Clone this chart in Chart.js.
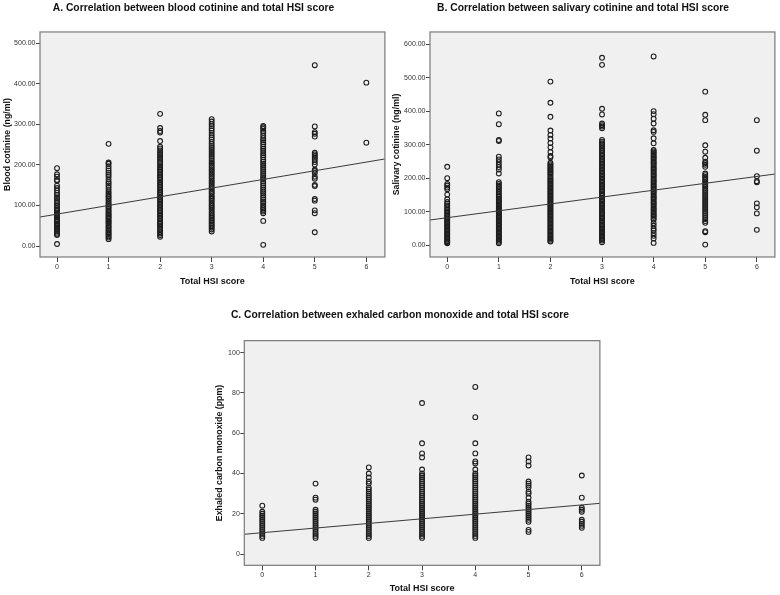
<!DOCTYPE html>
<html>
<head>
<meta charset="utf-8">
<script src="https://cdn.jsdelivr.net/npm/chart.js@4"></script>
<style>
	body { margin: 0; background: #fff; }
	.box { position: absolute; }
</style>
</head>
<body>
<div class="box" style="left:0;top:0;width:390px;height:290px"><canvas id="chartA"></canvas></div>
<div class="box" style="left:390px;top:0;width:390px;height:290px"><canvas id="chartB"></canvas></div>
<div class="box" style="left:200px;top:290px;width:405px;height:305px"><canvas id="chartC"></canvas></div>
<script>
// Total HSI score categories (x axis)
const hsiScores = [0, 1, 2, 3, 4, 5, 6];

// Blood cotinine (ng/ml), one list per HSI score
const bloodCotinine = [
	[192, 177, 171, 163, 161, 149, 143, 137, 131, 126, 120, 117, 111, 106, 101, 98, 93, 89, 86, 82, 79, 76, 73, 70, 66, 63, 60, 56, 53, 50, 46, 43, 40, 37, 33, 30, 27, 5],
	[252, 206, 203, 197, 191, 186, 181, 176, 171, 164, 158, 154, 149, 144, 138, 133, 129, 124, 121, 116, 112, 107, 103, 99, 96, 92, 88, 85, 81, 78, 74, 71, 68, 64, 61, 58, 55, 51, 48, 45, 41, 38, 34, 31, 28, 24, 21, 17],
	[326, 291, 284, 280, 259, 245, 241, 236, 231, 227, 222, 217, 213, 208, 204, 199, 195, 191, 187, 183, 179, 175, 171, 167, 163, 158, 154, 150, 146, 142, 138, 134, 130, 126, 121, 117, 113, 109, 105, 101, 97, 93, 89, 86, 82, 78, 74, 70, 66, 62, 58, 55, 51, 47, 43, 39, 35, 31, 27, 23],
	[313, 307, 301, 296, 290, 285, 279, 273, 268, 263, 257, 252, 247, 242, 237, 232, 227, 222, 217, 212, 207, 203, 198, 194, 189, 185, 180, 176, 171, 167, 162, 158, 154, 149, 145, 141, 136, 132, 128, 123, 119, 115, 111, 106, 102, 98, 94, 90, 85, 81, 77, 73, 69, 65, 61, 57, 53, 49, 45, 41, 36],
	[296, 293, 289, 284, 279, 272, 266, 261, 256, 251, 245, 240, 235, 229, 224, 219, 213, 208, 203, 198, 193, 188, 183, 178, 173, 168, 164, 159, 154, 149, 144, 139, 134, 130, 125, 120, 115, 110, 106, 101, 97, 93, 89, 85, 81, 62, 3],
	[446, 295, 281, 277, 270, 230, 226, 222, 218, 213, 207, 201, 188, 185, 180, 171, 166, 151, 148, 116, 112, 88, 81, 34],
	[403, 255]
];

// Salivary cotinine (ng/ml), one list per HSI score
const salivaryCotinine = [
	[234, 200, 183, 178, 172, 167, 151, 137, 129, 124, 119, 115, 110, 106, 101, 97, 92, 88, 84, 80, 76, 72, 68, 64, 60, 56, 52, 48, 44, 40, 36, 32, 28, 24, 20, 16, 12, 9, 6],
	[393, 361, 314, 311, 264, 256, 248, 240, 233, 226, 214, 188, 183, 178, 173, 168, 163, 158, 153, 148, 144, 139, 135, 131, 126, 122, 118, 114, 110, 106, 102, 98, 94, 90, 86, 82, 78, 74, 70, 66, 62, 58, 54, 50, 46, 42, 38, 34, 30, 26, 22, 18, 14, 10, 6],
	[488, 425, 383, 342, 329, 318, 305, 292, 278, 266, 262, 246, 242, 238, 234, 230, 226, 222, 218, 214, 210, 205, 201, 197, 193, 189, 185, 181, 177, 173, 169, 165, 161, 157, 153, 149, 145, 141, 137, 133, 129, 125, 121, 117, 113, 109, 105, 101, 97, 93, 89, 85, 81, 77, 73, 69, 65, 61, 57, 53, 49, 45, 41, 37, 33, 29, 25, 21, 17, 13, 11],
	[559, 538, 407, 390, 363, 358, 354, 349, 314, 309, 304, 300, 295, 290, 285, 281, 276, 271, 267, 262, 257, 253, 248, 244, 239, 235, 230, 226, 221, 217, 212, 208, 203, 199, 194, 190, 186, 181, 177, 173, 168, 164, 160, 155, 151, 147, 142, 138, 134, 130, 125, 121, 117, 113, 108, 104, 100, 96, 92, 87, 83, 79, 75, 71, 67, 62, 58, 54, 50, 46, 42, 38, 34, 30, 26, 22, 18, 14, 9],
	[563, 400, 391, 377, 363, 343, 338, 319, 304, 284, 280, 276, 272, 267, 263, 259, 255, 250, 246, 242, 238, 233, 229, 225, 221, 216, 212, 208, 204, 199, 195, 191, 187, 182, 178, 174, 170, 165, 161, 157, 153, 148, 144, 140, 136, 131, 127, 123, 119, 114, 110, 106, 102, 97, 93, 89, 85, 80, 76, 66, 58, 50, 44, 36, 28, 20, 7],
	[458, 389, 373, 298, 279, 261, 249, 245, 240, 234, 214, 209, 204, 199, 194, 189, 184, 179, 174, 168, 162, 156, 150, 144, 138, 132, 126, 120, 114, 108, 102, 96, 90, 84, 78, 72, 67, 42, 39, 2],
	[373, 282, 206, 191, 188, 125, 113, 95, 46]
];

// Exhaled carbon monoxide (ppm), one list per HSI score
const exhaledCO = [
	[24, 21, 20, 19, 18, 17, 16, 15, 14, 13, 12, 11, 10, 9, 8],
	[35, 28, 27, 22, 21, 20, 19, 18, 17, 16, 15, 14, 13, 12, 11, 10, 9, 8],
	[43, 40, 38, 36, 35, 33, 32, 31, 30, 29, 28, 27, 26, 25, 24, 23, 22, 21, 20, 19, 18, 17, 16, 15, 14, 13, 12, 11, 10, 9, 8],
	[75, 55, 50, 48, 42, 40, 39, 38, 37, 36, 35, 34, 33, 32, 31, 30, 29, 28, 27, 26, 25, 24, 23, 22, 21, 20, 19, 18, 17, 16, 15, 14, 13, 12, 11, 10, 9, 8],
	[83, 68, 55, 50, 46, 45, 42, 40, 39, 38, 37, 36, 35, 34, 33, 32, 31, 30, 29, 28, 27, 26, 25, 24, 23, 22, 21, 20, 19, 18, 17, 16, 15, 14, 13, 12, 11, 10, 9, 8],
	[48, 46, 44, 36, 35, 34, 33, 31, 30, 28, 26, 25, 24, 23, 22, 21, 20, 19, 18, 17, 16, 12, 11],
	[39, 28, 23, 22, 21, 17, 16, 15, 14, 13]
];

// fitted regression lines
const bloodFit = { intercept: 78.7, slope: 21.4 };
const salivaryFit = { intercept: 82.2, slope: 20.5 };
const coFit = { intercept: 10.6, slope: 2.3 };

// tick labels
const bloodTicks = [0, 100, 200, 300, 400, 500];
const salivaryTicks = [0, 100, 200, 300, 400, 500, 600];
const coTicks = [0, 20, 40, 60, 80, 100];

const FONT = "'Liberation Sans', Arial, sans-serif";

const plotFrame = {
	id: 'plotFrame',
	beforeDraw(chart) {
		const a = chart.chartArea;
		const ctx = chart.ctx;
		ctx.save();
		ctx.fillStyle = '#f0f0f0';
		ctx.fillRect(a.left, a.top, a.right - a.left, a.bottom - a.top);
		ctx.restore();
	},
	afterDatasetsDraw(chart) {
		const a = chart.chartArea;
		const ctx = chart.ctx;
		ctx.save();
		ctx.strokeStyle = '#7a7a7a';
		ctx.lineWidth = 1.2;
		ctx.strokeRect(a.left, a.top, a.right - a.left, a.bottom - a.top);
		ctx.restore();
	}
};

/**
 * Builds one SPSS style scatter plot with a fit line
 */
function makeScatter(id, o) {
	const points = [];
	o.values.forEach((col, i) => {
		col.forEach(v => points.push({ x: hsiScores[i], y: v }));
	});
	const fitLine = [
		{ x: o.xMin, y: o.fit.intercept + o.fit.slope * o.xMin },
		{ x: o.xMax, y: o.fit.intercept + o.fit.slope * o.xMax }
	];

	return new Chart(document.getElementById(id), {
		type: 'scatter',
		data: {
			datasets: [{
				data: points,
				pointRadius: 2.4,
				pointBorderWidth: 1.1,
				borderColor: '#1e1e1e',
				backgroundColor: 'rgba(0,0,0,0)',
				order: 1
			}, {
				data: fitLine,
				showLine: true,
				pointRadius: 0,
				borderColor: '#3a3a3a',
				borderWidth: 1,
				order: 0
			}]
		},
		options: {
			responsive: true,
			maintainAspectRatio: false,
			animation: false,
			layout: { padding: o.padding },
			plugins: {
				legend: { display: false },
				tooltip: { enabled: false },
				title: {
					display: true,
					text: o.title,
					color: '#111',
					font: { family: FONT, size: 10.3, weight: 'bold', lineHeight: 1.2 },
					padding: o.titlePadding
				}
			},
			scales: {
				x: {
					type: 'linear',
					min: o.xMin,
					max: o.xMax,
					afterFit: s => { s.height = o.xHeight; },
					afterBuildTicks: s => { s.ticks = hsiScores.map(v => ({ value: v })); },
					grid: { drawOnChartArea: false, drawTicks: true, tickLength: 5, color: '#444' },
					border: { display: false },
					ticks: { color: '#333', padding: 1, font: { family: FONT, size: 7 } },
					title: {
						display: true,
						text: 'Total HSI score',
						color: '#111',
						font: { family: FONT, size: 9, weight: 'bold', lineHeight: 1.2 },
						padding: { top: 0, bottom: o.xTitleBottom }
					}
				},
				y: {
					type: 'linear',
					min: o.yMin,
					max: o.yMax,
					afterFit: s => { s.width = o.yWidth; },
					afterBuildTicks: s => { s.ticks = o.yTicks.map(v => ({ value: v })); },
					grid: { drawOnChartArea: false, drawTicks: true, tickLength: 4, color: '#444' },
					border: { display: false },
					ticks: {
						color: '#333',
						padding: 0.5,
						font: { family: FONT, size: 7 },
						callback: v => o.decimals ? v.toFixed(2) : String(v)
					},
					title: {
						display: true,
						text: o.yTitle,
						color: '#111',
						font: { family: FONT, size: 8.8, weight: 'bold', lineHeight: 1.2 },
						padding: { top: o.yTitleTop, bottom: 0 }
					}
				}
			}
		},
		plugins: [plotFrame]
	});
}

makeScatter('chartA', {
	title: 'A. Correlation between blood cotinine and total HSI score',
	yTitle: 'Blood cotinine (ng/ml)',
	values: bloodCotinine,
	fit: bloodFit,
	yTicks: bloodTicks,
	decimals: true,
	xMin: -0.33, xMax: 6.36,
	yMin: -27, yMax: 528,
	yWidth: 40, xHeight: 33,
	padding: { left: 0, right: 3, top: 0, bottom: 0 },
	titlePadding: { top: 1.6, bottom: 18 },
	xTitleBottom: 2.9,
	yTitleTop: 1.8
});

makeScatter('chartB', {
	title: 'B. Correlation between salivary cotinine and total HSI score',
	yTitle: 'Salivary cotinine (ng/ml)',
	values: salivaryCotinine,
	fit: salivaryFit,
	yTicks: salivaryTicks,
	decimals: true,
	xMin: -0.334, xMax: 6.35,
	yMin: -35, yMax: 636,
	yWidth: 40, xHeight: 33,
	padding: { left: 0, right: 4, top: 0, bottom: 0 },
	titlePadding: { top: 1.6, bottom: 18 },
	xTitleBottom: 2.9,
	yTitleTop: 0.8
});

makeScatter('chartC', {
	title: 'C. Correlation between exhaled carbon monoxide and total HSI score',
	yTitle: 'Exhaled carbon monoxide (ppm)',
	values: exhaledCO,
	fit: coFit,
	yTicks: coTicks,
	decimals: false,
	xMin: -0.338, xMax: 6.34,
	yMin: -5.6, yMax: 106,
	yWidth: 44.3, xHeight: 29.7,
	padding: { left: 0, right: 5, top: 0, bottom: 0 },
	titlePadding: { top: 19.3, bottom: 19 },
	xTitleBottom: 0.6,
	yTitleTop: 14
});
</script>
</body>
</html>
